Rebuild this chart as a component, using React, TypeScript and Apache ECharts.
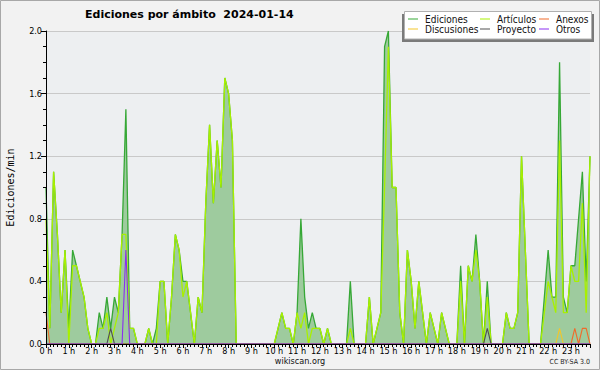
import React, { useEffect, useRef } from 'react';
import * as echarts from 'echarts';

// 10-minute slots of the day (0 = 00:00, 143 = 23:50)
const slots: number[] = Array.from({ length: 144 }, (_, i) => i);
const hourLabels: string[] = [
  '0 h', '1 h', '2 h', '3 h', '4 h', '5 h', '6 h', '7 h', '8 h', '9 h', '10 h', '11 h',
  '12 h', '13 h', '14 h', '15 h', '16 h', '17 h', '18 h', '19 h', '20 h', '21 h', '22 h', '23 h',
];
const yTicks: number[] = [0, 0.4, 0.8, 1.2, 1.6, 2.0];

const ediciones: number[] = [
  1.0, 0.1, 1.1, 0.7, 0.2, 0.6, 0.1, 0.6, 0.5, 0.4, 0.3, 0.1,
  0, 0, 0.2, 0.1, 0.3, 0.1, 0.3, 0.2, 0.7, 1.5, 0.1, 0.1,
  0, 0, 0, 0.1, 0, 0.1, 0.4, 0.4, 0, 0.3, 0.7, 0.6,
  0.4, 0.4, 0.2, 0, 0.3, 0.2, 0.9, 1.4, 0.9, 1.3, 1.0, 1.7,
  1.6, 1.3, 0, 0, 0, 0, 0, 0, 0, 0, 0, 0,
  0, 0.1, 0.2, 0.1, 0.1, 0, 0.2, 0.8, 0.3, 0.1, 0.2, 0.1,
  0.1, 0, 0.1, 0, 0, 0, 0, 0, 0.4, 0, 0, 0,
  0, 0.3, 0, 0.1, 0.2, 1.9, 2.0, 1.0, 1.0, 0.2, 0, 0.6,
  0.4, 0.1, 0.4, 0.2, 0, 0.2, 0.1, 0, 0.2, 0.1, 0, 0,
  0, 0.5, 0, 0.5, 0.4, 0.7, 0.4, 0, 0.4, 0, 0, 0,
  0, 0.2, 0.1, 0.1, 0.2, 1.2, 0.6, 0, 0, 0, 0, 0.3,
  0.6, 0.3, 0.3, 1.8, 0.3, 0.2, 0.5, 0.5, 0.8, 1.1, 0.4, 1.2,
];

const articulos: number[] = [
  0.8, 0.1, 1.1, 0.7, 0.2, 0.6, 0, 0.5, 0.5, 0.4, 0.3, 0.1,
  0, 0, 0.1, 0.1, 0.2, 0, 0.1, 0.2, 0.7, 0.7, 0.1, 0.1,
  0, 0, 0, 0.1, 0, 0, 0.4, 0.4, 0, 0.3, 0.7, 0.6,
  0.3, 0.4, 0.2, 0, 0.3, 0.2, 0.9, 1.4, 0.9, 1.3, 1.0, 1.7,
  1.6, 1.3, 0, 0, 0, 0, 0, 0, 0, 0, 0, 0,
  0, 0.1, 0.2, 0.1, 0.1, 0, 0.2, 0.1, 0.2, 0, 0.1, 0.1,
  0.1, 0, 0.1, 0, 0, 0, 0, 0, 0.1, 0, 0, 0,
  0, 0.3, 0, 0.1, 0.2, 1.0, 1.9, 1.0, 1.0, 0.2, 0, 0.6,
  0.4, 0.1, 0.4, 0.2, 0, 0.2, 0.1, 0, 0.2, 0.1, 0, 0,
  0, 0.4, 0, 0.5, 0.4, 0.6, 0.4, 0, 0.3, 0, 0, 0,
  0, 0.2, 0.1, 0.1, 0.2, 1.2, 0.6, 0, 0, 0, 0, 0.2,
  0.4, 0.3, 0.2, 1.3, 0.2, 0.2, 0.5, 0.4, 0.4, 0.9, 0.2, 1.2,
];

const anexos: number[] = [
  0.2, 0, 0, 0, 0, 0, 0, 0, 0, 0, 0, 0,
  0, 0, 0, 0, 0, 0, 0, 0, 0, 0, 0, 0,
  0, 0, 0, 0, 0, 0, 0, 0, 0, 0, 0, 0,
  0, 0, 0, 0, 0, 0, 0, 0, 0, 0, 0, 0,
  0, 0, 0, 0, 0, 0, 0, 0, 0, 0, 0, 0,
  0, 0, 0, 0, 0, 0, 0, 0, 0, 0, 0, 0,
  0, 0, 0, 0, 0, 0, 0, 0, 0, 0, 0, 0,
  0, 0, 0, 0, 0, 0, 0, 0, 0, 0, 0, 0,
  0, 0, 0, 0, 0, 0, 0, 0, 0, 0, 0, 0,
  0, 0, 0, 0, 0, 0, 0, 0, 0, 0, 0, 0,
  0, 0, 0, 0, 0, 0, 0, 0, 0, 0, 0, 0,
  0, 0, 0, 0, 0, 0, 0, 0.1, 0, 0.1, 0.1, 0,
];

const discusiones: number[] = [
  0, 0, 0, 0, 0, 0, 0, 0, 0, 0, 0, 0,
  0, 0, 0, 0, 0, 0, 0, 0, 0, 0, 0, 0,
  0, 0, 0, 0, 0, 0, 0, 0, 0, 0, 0, 0,
  0, 0, 0, 0, 0, 0, 0, 0, 0, 0, 0, 0,
  0, 0, 0, 0, 0, 0, 0, 0, 0, 0, 0, 0,
  0, 0, 0, 0, 0, 0, 0, 0, 0, 0, 0, 0,
  0, 0, 0, 0, 0, 0, 0, 0, 0, 0, 0, 0,
  0, 0, 0, 0, 0, 0, 0, 0, 0, 0, 0, 0,
  0, 0, 0, 0, 0, 0, 0, 0, 0, 0, 0, 0,
  0, 0, 0, 0, 0, 0, 0, 0, 0, 0, 0, 0,
  0, 0, 0, 0, 0, 0, 0, 0, 0, 0, 0, 0,
  0, 0, 0, 0.1, 0, 0, 0, 0, 0, 0, 0, 0,
];

const proyecto: number[] = [
  0, 0, 0, 0, 0, 0, 0, 0, 0, 0, 0, 0,
  0, 0, 0, 0, 0, 0.1, 0, 0, 0, 0, 0, 0,
  0, 0, 0, 0, 0, 0, 0, 0, 0, 0, 0, 0,
  0, 0, 0, 0, 0, 0, 0, 0, 0, 0, 0, 0,
  0, 0, 0, 0, 0, 0, 0, 0, 0, 0, 0, 0,
  0, 0, 0, 0, 0, 0, 0, 0, 0, 0, 0, 0,
  0, 0, 0, 0, 0, 0, 0, 0, 0, 0, 0, 0,
  0, 0, 0, 0, 0, 0, 0, 0, 0, 0, 0, 0,
  0, 0, 0, 0, 0, 0, 0, 0, 0, 0, 0, 0,
  0, 0, 0, 0, 0, 0, 0, 0, 0.1, 0, 0, 0,
  0, 0, 0, 0, 0, 0, 0, 0, 0, 0, 0, 0,
  0, 0, 0, 0, 0, 0, 0, 0, 0, 0, 0, 0,
];

const otros: number[] = [
  0, 0, 0, 0, 0, 0, 0, 0, 0, 0, 0, 0,
  0, 0, 0, 0, 0, 0, 0, 0, 0, 0.6, 0, 0,
  0, 0, 0, 0, 0, 0, 0, 0, 0, 0, 0, 0,
  0, 0, 0, 0, 0, 0, 0, 0, 0, 0, 0, 0,
  0, 0, 0, 0, 0, 0, 0, 0, 0, 0, 0, 0,
  0, 0, 0, 0, 0, 0, 0, 0, 0, 0, 0, 0,
  0, 0, 0, 0, 0, 0, 0, 0, 0, 0, 0, 0,
  0, 0, 0, 0, 0, 0, 0, 0, 0, 0, 0, 0,
  0, 0, 0, 0, 0, 0, 0, 0, 0, 0, 0, 0,
  0, 0, 0, 0, 0, 0, 0, 0, 0, 0, 0, 0,
  0, 0, 0, 0, 0, 0, 0, 0, 0, 0, 0, 0,
  0, 0, 0, 0, 0, 0, 0, 0, 0, 0, 0, 0,
];

const seriesNames: string[] = ['Ediciones', 'Artículos', 'Anexos', 'Discusiones', 'Proyecto', 'Otros'];
const seriesColors: string[] = ['#36a836', '#a8f000', '#f06a2a', '#f2c62a', '#505050', '#8a2ef0'];
const seriesValues: number[][] = [ediciones, articulos, anexos, discusiones, proyecto, otros];

const FONT = "'DejaVu Sans Condensed', 'DejaVu Sans', sans-serif";

export default function App() {
  const ref = useRef<HTMLDivElement>(null);

  useEffect(() => {
    if (!ref.current) return;
    const chart = echarts.init(ref.current, undefined, { renderer: 'svg' });

    const series = seriesValues.map((vals, k) => ({
      name: seriesNames[k],
      type: 'line',
      yAxisIndex: 0,
      data: vals.map((v, i) => [slots[i], v]),
      showSymbol: false,
      symbol: 'none',
      color: seriesColors[k],
      lineStyle: { color: seriesColors[k], width: k < 2 ? 1.3 : 1.1 },
      areaStyle: k === 0 ? { color: '#9ecb9e', opacity: 1 } : undefined,
      z: 2 + k * 0.01,
      silent: true,
    }));

    const legendText = {
      fontFamily: FONT,
      fontSize: 10,
      color: '#111',
      lineHeight: 10,
      padding: [0, 0, 0, 2],
    };
    const mkLegend = (left: number, data: string[]) => ({
      orient: 'vertical',
      left,
      top: 14,
      padding: 0,
      itemGap: 0,
      itemWidth: 10,
      itemHeight: 1,
      icon: 'rect',
      data,
      textStyle: legendText,
      selectedMode: false,
      z: 10,
    });

    chart.setOption({
      animation: false,
      backgroundColor: '#f2f2f2',
      title: {
        text: 'Ediciones por ámbito  2024-01-14',
        left: 85,
        top: 9,
        padding: 0,
        textStyle: {
          fontFamily: "'DejaVu Sans', sans-serif",
          fontSize: 11,
          fontWeight: 'bold',
          color: '#000',
        },
      },
      legend: [
        mkLegend(408, ['Ediciones', 'Discusiones']),
        mkLegend(480, ['Artículos', 'Proyecto']),
        mkLegend(539, ['Anexos', 'Otros']),
      ],
      grid: {
        left: 46,
        right: 10,
        top: 31,
        bottom: 26,
        show: true,
        backgroundColor: '#edeff1',
        borderWidth: 0,
        containLabel: false,
        outerBoundsMode: 'none',
      },
      xAxis: {
        type: 'value',
        min: 0,
        max: 143,
        interval: 6,
        z: 5,
        axisLine: { show: true, lineStyle: { color: '#000', width: 1 } },
        axisTick: { show: true, length: 4, lineStyle: { color: '#000', width: 1 } },
        minorTick: { show: true, splitNumber: 6, length: 3, lineStyle: { color: '#000', width: 1 } },
        splitLine: { show: false },
        axisLabel: {
          formatter: (v: number) => (v % 6 === 0 && hourLabels[v / 6] ? hourLabels[v / 6] : ''),
          fontFamily: FONT,
          fontSize: 9,
          color: '#000',
          margin: 2,
          showMaxLabel: false,
        },
      },
      yAxis: [
        {
          type: 'value',
          min: yTicks[0],
          max: yTicks[yTicks.length - 1],
          interval: 0.4,
          axisLine: { show: false },
          axisTick: { show: false },
          axisLabel: { show: false },
          splitLine: { show: true, lineStyle: { color: '#c9c9c9', width: 1 } },
        },
        {
          type: 'value',
          position: 'left',
          min: yTicks[0],
          max: yTicks[yTicks.length - 1],
          interval: 0.4,
          z: 5,
          axisLine: { show: true, lineStyle: { color: '#000', width: 1 } },
          axisTick: { show: true, length: 5, lineStyle: { color: '#000', width: 1 } },
          minorTick: { show: true, splitNumber: 4, length: 3, lineStyle: { color: '#000', width: 1 } },
          splitLine: { show: false },
          axisLabel: {
            formatter: (v: number) => v.toFixed(1),
            fontFamily: FONT,
            fontSize: 9,
            color: '#000',
            margin: 4,
            lineHeight: 9,
          },
          name: 'Ediciones/min',
          nameLocation: 'middle',
          nameRotate: 90,
          nameGap: 31,
          nameTextStyle: {
            fontFamily: "'DejaVu Sans Mono', monospace",
            fontSize: 10,
            color: '#000',
          },
        },
      ],
      graphic: [
        {
          type: 'rect',
          silent: true,
          z: 0,
          shape: { x: 0.5, y: 0.5, width: 599, height: 369 },
          style: { fill: 'none', stroke: '#a8a8a8', lineWidth: 1 },
        },
        {
          type: 'rect',
          silent: true,
          z: 8,
          shape: { x: 402, y: 14, width: 192, height: 28 },
          style: { fill: '#7a7a7a' },
        },
        {
          type: 'rect',
          silent: true,
          z: 9,
          shape: { x: 404.5, y: 11.5, width: 187, height: 27.5 },
          style: { fill: '#ffffff', stroke: '#b0b0b0', lineWidth: 1 },
        },
        {
          type: 'text',
          silent: true,
          z: 10,
          x: 300,
          y: 361,
          style: {
            text: 'wikiscan.org',
            fontFamily: FONT,
            fontSize: 9,
            fill: '#111',
            align: 'center',
            verticalAlign: 'middle',
          },
        },
        {
          type: 'text',
          silent: true,
          z: 10,
          x: 590,
          y: 362,
          style: {
            text: 'CC BY-SA 3.0',
            fontFamily: FONT,
            fontSize: 7,
            fill: '#222',
            align: 'right',
            verticalAlign: 'middle',
          },
        },
      ],
      series,
    });

    return () => chart.dispose();
  }, []);

  return (
    <div
      ref={ref}
      style={{ position: 'fixed', left: 0, top: 0, width: 600, height: 370 }}
    />
  );
}
